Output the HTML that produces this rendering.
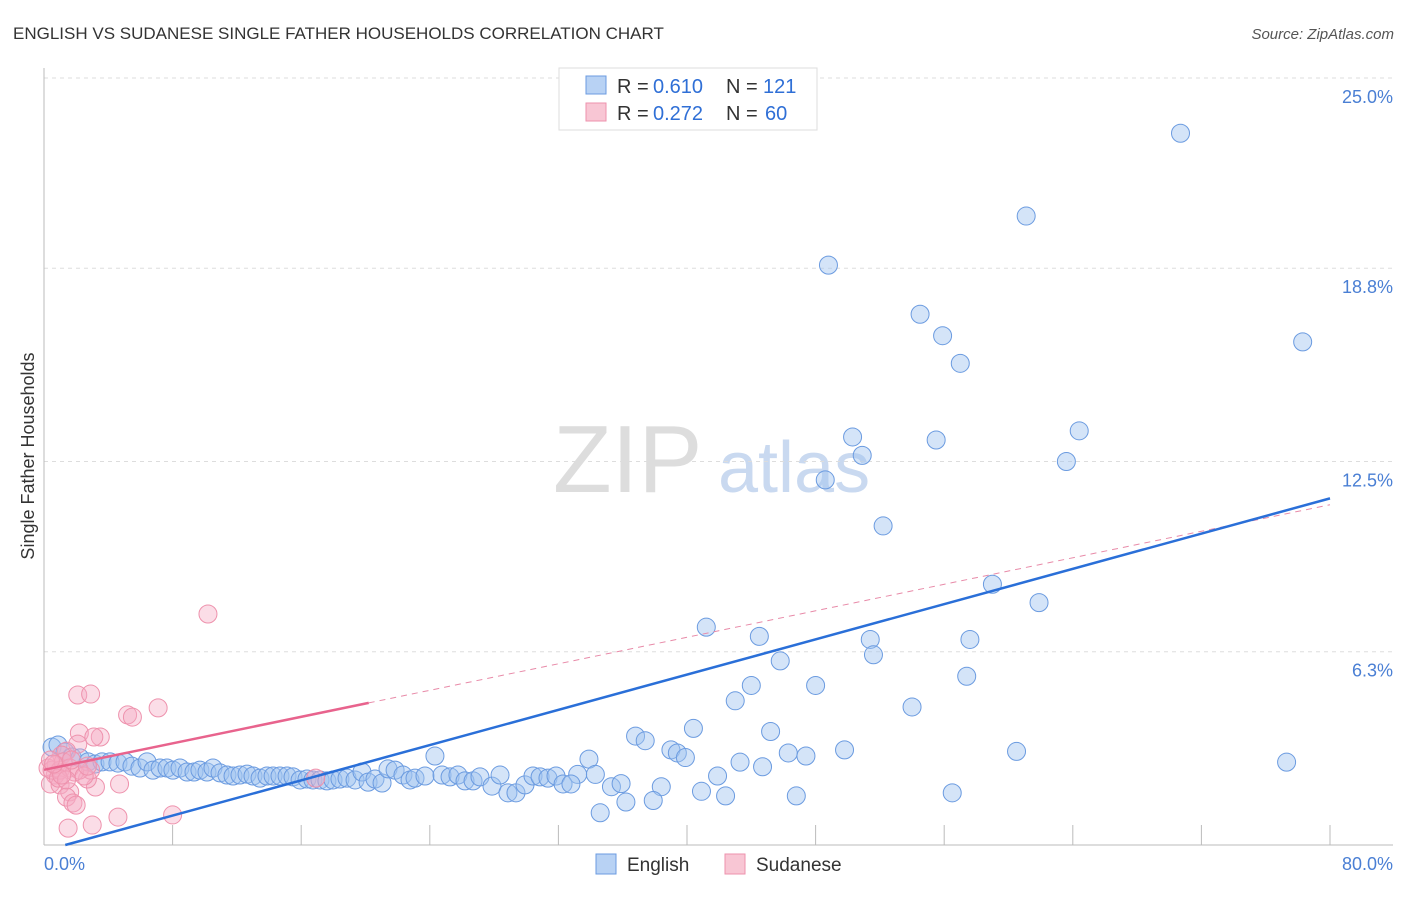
<!DOCTYPE html>
<html><head><meta charset="utf-8"><style>
body{margin:0;background:#fff;font-family:"Liberation Sans",sans-serif;}
svg text{font-family:"Liberation Sans",sans-serif;}
</style></head><body>
<svg id="chart" width="1406" height="892">
<text x="13" y="39" font-size="17" fill="#333">ENGLISH VS SUDANESE SINGLE FATHER HOUSEHOLDS CORRELATION CHART</text>
<text x="1394" y="39" font-size="15" fill="#555" font-style="italic" text-anchor="end">Source: ZipAtlas.com</text>
<g>
<text x="553" y="492" font-size="96" fill="#ddd" font-family="Liberation Serif,serif">ZIP</text>
<text x="718" y="492" font-size="72" fill="#c9d9f0">atlas</text>
</g>
<g id="grid"></g>
<g id="marks"></g>
<text transform="translate(34,456) rotate(-90)" font-size="18" fill="#333" text-anchor="middle">Single Father Households</text>
<text x="44" y="870" font-size="18" fill="#4a7fd4">0.0%</text>
<text x="1393" y="870" font-size="18" fill="#4a7fd4" text-anchor="end">80.0%</text>
<g>
<rect x="559" y="68" width="258" height="62" fill="#fff" stroke="#ddd"/>
<rect x="586" y="76" width="20" height="18" fill="#b8d2f4" stroke="#6b9be0"/>
<rect x="586" y="103" width="20" height="18" fill="#f8c6d4" stroke="#ee92ad"/>
<text x="617" y="93" font-size="20" fill="#333">R =</text>
<text x="653" y="93" font-size="20" fill="#2f6fd6">0.610</text>
<text x="726" y="93" font-size="20" fill="#333">N =</text>
<text x="763" y="93" font-size="20" fill="#2f6fd6">121</text>
<text x="617" y="120" font-size="20" fill="#333">R =</text>
<text x="653" y="120" font-size="20" fill="#2f6fd6">0.272</text>
<text x="726" y="120" font-size="20" fill="#333">N =</text>
<text x="765" y="120" font-size="20" fill="#2f6fd6">60</text>
</g>
<g>
<rect x="596" y="854" width="20" height="20" fill="#b8d2f4" stroke="#6b9be0"/>
<text x="627" y="871" font-size="19" fill="#333">English</text>
<rect x="725" y="854" width="20" height="20" fill="#f8c6d4" stroke="#ee92ad"/>
<text x="756" y="871" font-size="19" fill="#333">Sudanese</text>
</g>
</svg>
<script>
const yTicks=[25.0,18.8,12.5,6.3];
const yTickLabels=["25.0%","18.8%","12.5%","6.3%"];
const xTicks=[8,16,24,32,40,48,56,64,72,80];
const englishX=[70.7,61.1,48.8,54.5,55.9,57.0,78.3,50.3,55.5,64.4,50.9,63.6,48.6,52.2,59.0,61.9,41.2,44.5,51.4,57.6,51.6,45.8,57.4,44.0,48.0,43.0,54.0,40.4,45.2,36.8,37.4,39.0,39.4,39.9,46.3,47.4,49.8,60.5,77.3,43.3,44.7,41.9,38.4,40.9,42.4,46.8,56.5,37.9,36.2,34.6,35.3,35.9,33.9,33.2,34.3,
0.5,0.87,1.31,1.74,2.24,2.74,3.17,3.61,4.11,4.6,5.04,5.47,5.97,6.41,6.78,7.22,7.65,8.02,8.46,8.9,9.33,9.7,10.14,10.51,10.95,11.38,11.76,12.19,12.63,13.0,13.44,13.87,14.25,14.68,15.12,15.49,15.93,16.36,16.73,17.17,17.6,17.98,18.41,18.85,19.35,19.78,20.16,20.59,21.03,21.4,21.84,22.33,22.77,23.08,23.7,24.32,24.76,25.26,25.75,26.19,26.69,27.12,27.87,28.37,28.86,29.36,29.92,30.42,30.86,31.35,31.85,32.29,32.78];
const englishY=[23.2,20.5,18.9,17.3,16.6,15.7,16.4,13.3,13.2,13.5,12.7,12.5,11.9,10.4,8.5,7.9,7.1,6.8,6.7,6.7,6.2,6.0,5.5,5.2,5.2,4.7,4.5,3.8,3.7,3.55,3.4,3.1,3.0,2.85,3.0,2.9,3.1,3.05,2.7,2.7,2.55,2.25,1.9,1.75,1.6,1.6,1.7,1.45,1.4,1.05,1.9,2.0,2.8,2.3,2.3,
3.19,3.26,3.03,2.87,2.84,2.71,2.64,2.71,2.71,2.67,2.71,2.57,2.51,2.71,2.44,2.51,2.51,2.44,2.51,2.38,2.38,2.44,2.38,2.51,2.35,2.28,2.25,2.28,2.31,2.25,2.18,2.25,2.25,2.25,2.25,2.22,2.12,2.15,2.12,2.12,2.09,2.12,2.15,2.18,2.12,2.38,2.05,2.15,2.02,2.48,2.44,2.28,2.12,2.18,2.25,2.9,2.28,2.22,2.28,2.09,2.09,2.22,1.92,2.28,1.7,1.7,1.96,2.25,2.22,2.18,2.25,1.99,1.99];
const sudaneseX=[10.2,2.1,2.9,5.2,5.5,7.1,2.2,3.5,3.1,2.1,1.4,1.1,0.7,0.4,1.0,1.6,1.4,1.8,2.0,3.2,4.7,2.7,2.9,1.5,3.0,4.6,8.0,16.9,0.25,0.5,0.75,1.0,1.2,1.6,1.9,2.2,2.5,0.4,0.9,1.4,1.7,2.7,1.1,0.6];
const sudaneseY=[7.53,4.89,4.92,4.24,4.17,4.47,3.65,3.52,3.52,3.29,3.06,2.93,2.28,1.99,1.96,1.73,1.56,1.37,1.3,1.89,1.99,2.15,2.44,0.55,0.65,0.91,0.98,2.18,2.51,2.44,2.61,2.44,2.71,2.51,2.38,2.44,2.25,2.77,2.18,2.12,2.77,2.57,2.28,2.64];
const englishFit=[-0.19,0.1436];
const sudaneseFit=[2.45,0.108];
const X=v=>44+v*(1286/80), Y=v=>845-v*(767/25);
const NS="http://www.w3.org/2000/svg";
function mk(tag,attrs,parent){const e=document.createElementNS(NS,tag);for(const k in attrs)e.setAttribute(k,attrs[k]);parent.appendChild(e);return e;}
const grid=document.getElementById('grid'), marks=document.getElementById('marks');
yTicks.forEach((t,i)=>{
 const l=mk('line',{x1:44,x2:1393,y1:Y(t),y2:Y(t),stroke:'#ddd','stroke-dasharray':'4,4'},grid);
 
 
 const tx=mk('text',{x:1393,y:Y(t)+25,'font-size':18,fill:'#4a7fd4','text-anchor':'end'},grid);
 tx.textContent=yTickLabels[i];
 
 
});
const ax=mk('line',{x1:44,x2:44,y1:68,y2:845,stroke:'#bbb'},grid);


const bx=mk('line',{x1:44,x2:1393,y1:845,y2:845,stroke:'#bbb'},grid);


xTicks.forEach(t=>{
 const l=mk('line',{x1:X(t),x2:X(t),y1:825,y2:845,stroke:'#bbb'},grid);
 
 
});
englishX.forEach((v,i)=>{
 const c=mk('circle',{cx:X(v),cy:Y(englishY[i]),r:9,fill:'rgba(160,195,240,0.45)',stroke:'#6b9be0','stroke-width':1},marks);
 
 
});
sudaneseX.forEach((v,i)=>{
 const c=mk('circle',{cx:X(v),cy:Y(sudaneseY[i]),r:9,fill:'rgba(245,170,195,0.4)',stroke:'#ee92ad','stroke-width':1},marks);
 
 
});
const sf=x=>sudaneseFit[0]+sudaneseFit[1]*x, ef=x=>englishFit[0]+englishFit[1]*x;
const sd=mk('line',{x1:X(20.2),y1:Y(sf(20.2)),x2:X(80),y2:Y(sf(80)),stroke:'#e88aa8','stroke-width':1,'stroke-dasharray':'6,5'},marks);


const sl=mk('line',{x1:X(0),y1:Y(sf(0)),x2:X(20.2),y2:Y(sf(20.2)),stroke:'#e8638d','stroke-width':2.5},marks);


const x0=-englishFit[0]/englishFit[1];
const el=mk('line',{x1:X(x0),y1:Y(0),x2:X(80),y2:Y(ef(80)),stroke:'#2a6fd8','stroke-width':2.5},marks);


</script>
</body></html>
